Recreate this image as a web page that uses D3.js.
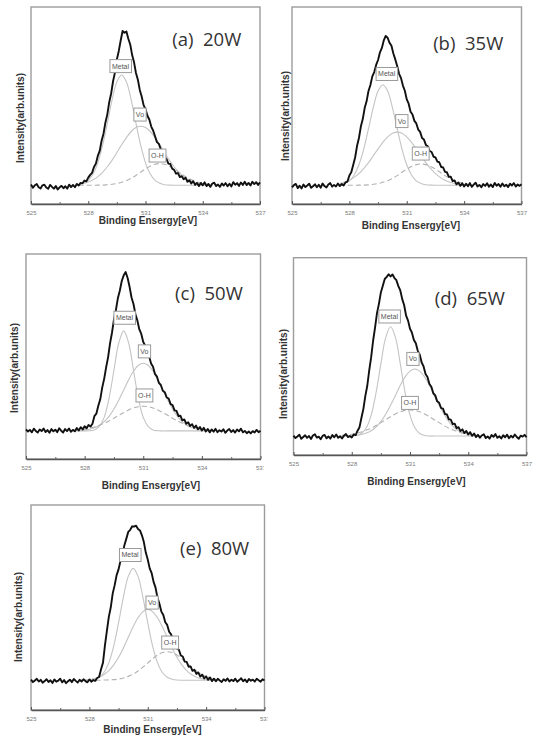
<!DOCTYPE html>
<html><head><meta charset="utf-8">
<script src="https://cdn.jsdelivr.net/npm/d3@7"></script>
<style>html,body{margin:0;padding:0;background:#fff;} svg{display:block}</style>
</head><body>
<svg id="chart" width="535" height="739"></svg>
<script>
// ---------- DATA ----------
const energy = d3.range(121).map(i => +(525 + i * 0.1).toFixed(1)); // measured grid, 0.1 eV
const fitEnergy = [527.5,527.75,528,528.25,528.5,528.75,529,529.25,529.5,529.75,530,530.25,530.5,530.75,531,531.25,531.5,531.75,532,532.25,532.5,532.75,533,533.25,533.5,533.75,534,534.25,534.5];
const tickValues = [525, 528, 531, 534, 537];
const minorTickValues = [526.5, 529.5, 532.5, 535.5];
const panelTitles = ["(a)  20W", "(b)  35W", "(c)  50W", "(d)  65W", "(e)  80W"];
const componentNames = ["Metal", "Vo", "O-H"];

const measuredA = [9.9,8.3,9.5,10.1,8.5,7.9,9.5,9.8,8.4,7.7, 9.7,8.7,7.8,9.1,7.4,8.5,9.2,8.0,9.0,7.8, 9.8,8.6,9.7,8.5,10.2,9.4,10.7,10.5,11.9,11.5, 13.4,14.8,15.8,18.8,20.5,24.4,27.0,32.1,35.7,41.4, 45.5,51.7,56.1,62.3,66.8,73.4,77.7,83.0,87.8,86.9, 87.6,83.9,81.0,75.6,71.9,66.5,63.1,57.9,54.6,50.2, 48.2,44.8,42.9,39.3,37.3,34.4,31.4,30.5,27.8,26.6, 23.7,22.9,20.5,20.3,17.9,17.3,15.4,15.7,13.7,14.1, 12.6,13.3,11.3,12.0,10.4,11.6,9.7,10.7,9.1,10.7, 9.5,11.0,9.1,10.2,8.7,10.4,10.8,9.1,9.9,8.7, 10.4,9.4,10.6,9.0,10.3,8.9,11.1,9.8,10.6,9.2, 10.9,9.7,11.3,9.6,10.7,9.4,11.3,10.1,11.1,9.7, 11.0];
const metalA = [9.8,10.5,12.0,15.2,20.9,29.7,41.0,52.9,62.0,65.5, 62.0,52.9,41.0,29.7,20.9,15.2,12.0,10.5,9.8,9.6, 9.5,9.5,9.5,9.5,9.5,9.5,9.5,9.5,9.5];
const voA = [10.0,10.5,11.2,12.3,13.9,16.1,18.9,22.3,26.1,30.1, 33.7,36.8,38.8,39.5,38.8,36.8,33.7,30.1,26.1,22.3, 18.9,16.1,13.9,12.3,11.2,10.5,10.0,9.8,9.6];
const ohA = [9.5,9.5,9.5,9.5,9.6,9.6,9.8,10.0,10.4,11.0, 11.9,13.1,14.5,16.2,17.8,19.2,20.2,20.5,20.2,19.2, 17.8,16.2,14.5,13.1,11.9,11.0,10.4,10.0,9.8];

const measuredB = [8.4,9.6,10.2,8.1,9.3,7.9,9.9,8.6,9.4,10.3, 8.2,9.0,10.0,8.5,9.8,8.3,10.4,9.1,8.4,9.9, 10.6,8.8,9.7,8.9,10.4,9.1,10.2,9.4,11.0,11.4, 14.5,16.1,19.8,23.6,29.4,33.5,39.3,43.1,48.7,52.1, 57.4,60.4,64.8,67.0,70.6,73.1,77.0,79.2,83.1,85.3, 84.4,81.8,80.3,76.4,73.4,70.0,66.1,63.9,60.1,57.5, 53.1,50.9,46.8,45.4,42.2,40.9,37.8,36.6,33.5,32.7, 30.0,29.3,26.9,26.4,24.0,23.7,21.5,21.2,18.8,18.6, 16.3,16.1,13.8,13.9,11.6,12.0,10.0,10.9,9.2,10.5, 8.9,10.3,9.0,10.6,8.7,9.8,10.8,8.9,9.7,8.5, 10.1,9.2,10.5,8.8,9.9,8.6,10.7,9.3,10.1,8.8, 10.4,9.0,9.8,8.6,10.3,9.4,10.6,8.9,9.9,9.2, 10.0];
const metalB = [9.8,10.4,11.7,14.7,19.9,27.9,38.2,49.0,57.3,60.5, 57.3,49.0,38.2,27.9,19.9,14.7,11.7,10.4,9.8,9.6, 9.5,9.5,9.5,9.5,9.5,9.5,9.5,9.5,9.5];
const voB = [10.4,11.0,12.0,13.5,15.4,18.0,21.0,24.5,28.0,31.3, 34.1,35.9,36.5,35.9,34.1,31.3,28.0,24.5,21.0,18.0, 15.4,13.5,12.0,11.0,10.4,10.0,9.8,9.6,9.5];
const ohB = [9.5,9.5,9.5,9.5,9.6,9.6,9.7,10.0,10.4,11.0, 11.8,13.0,14.4,16.1,17.7,19.0,20.0,20.3,20.0,19.0, 17.7,16.1,14.4,13.0,11.8,11.0,10.4,10.0,9.7];

const measuredC = [14.5,13.4,14.2,13.0,14.8,13.7,12.9,14.4,13.6,14.9, 13.2,14.1,12.8,14.6,13.5,14.3,13.1,15.0,13.8,12.9, 14.6,13.6,14.9,13.3,14.2,13.5,15.1,13.9,15.5,14.4, 16.0,15.0,16.6,15.8,17.2,20.9,22.1,26.0,29.1,34.8, 39.1,44.7,49.6,56.4,61.6,68.0,72.6,78.4,82.1,86.8, 89.6,91.2,88.3,84.0,78.8,75.6,70.6,67.5,63.2,61.0, 57.1,55.3,51.7,50.1,46.6,45.0,41.5,40.2,37.1,36.1, 33.3,32.6,30.0,29.5,26.8,26.3,23.7,23.5,21.0,21.1, 18.9,19.3,17.2,17.9,16.1,17.0,15.2,16.3,14.5,15.6, 13.9,15.2,13.4,14.6,13.0,14.4,13.3,14.7,13.1,14.0, 13.4,14.5,12.8,13.9,14.6,13.2,14.1,12.9,14.4,13.5, 14.8,13.0,13.7,12.6,13.4,12.5,13.6,12.9,14.2,13.1, 13.8];
const metalC = [13.7,13.7,13.7,13.8,14.2,15.9,20.3,29.6,43.3,56.7, 62.5,56.7,43.3,29.6,20.3,15.9,14.2,13.8,13.7,13.7, 13.7,13.7,13.7,13.7,13.7,13.7,13.7,13.7,13.7];
const voC = [13.8,13.9,14.1,14.5,15.2,16.3,18.2,20.8,24.4,28.8, 33.7,38.6,42.8,45.7,46.7,45.7,42.8,38.6,33.7,28.8, 24.4,20.8,18.2,16.3,15.2,14.5,14.1,13.9,13.8];
const ohC = [14.0,14.2,14.5,15.0,15.6,16.4,17.4,18.6,19.9,21.3, 22.6,23.9,24.9,25.5,25.7,25.5,24.9,23.9,22.6,21.3, 19.9,18.6,17.4,16.4,15.6,15.0,14.5,14.2,14.0];

const measuredD = [9.8,8.6,9.4,10.3,8.2,9.1,10.0,8.7,9.6,8.1, 9.9,10.5,8.8,9.3,8.0,9.7,10.2,8.5,9.4,8.3, 10.1,9.0,10.4,8.7,9.5,8.4,9.8,10.6,9.1,9.6, 8.9,10.4,10.1,12.3,14.1,18.9,23.4,30.0,35.1,42.9, 49.6,57.9,64.6,71.9,76.6,82.4,85.8,89.2,90.3,91.6, 90.5,91.5,89.7,88.6,85.6,83.4,79.0,75.9,70.6,68.1, 64.0,62.0,58.3,56.6,52.8,50.9,46.9,44.9,41.1,39.5, 36.0,34.6,31.3,30.2,27.2,26.5,23.8,23.5,20.8,20.6, 18.1,17.9,15.7,15.9,13.6,14.1,12.1,13.0,11.1,12.2, 10.4,11.6,9.7,10.9,9.1,10.2,8.8,9.9,10.5,8.6, 9.4,8.3,10.1,9.2,10.6,8.7,9.5,8.4,10.0,9.0, 10.3,8.5,9.7,8.9,10.4,9.1,8.2,9.8,9.3,10.2, 9.0];
const metalD = [9.6,9.6,9.6,9.9,10.9,13.8,20.2,31.5,46.2,59.6, 65.0,59.6,46.2,31.5,20.2,13.8,10.9,9.9,9.6,9.6, 9.6,9.6,9.6,9.6,9.6,9.6,9.6,9.6,9.6];
const voD = [9.6,9.7,9.8,10.0,10.4,11.1,12.3,14.2,16.9,20.7, 25.2,30.2,35.3,39.6,42.5,43.6,42.5,39.6,35.3,30.2, 25.2,20.7,16.9,14.2,12.3,11.1,10.4,10.0,9.8];
const ohD = [10.0,10.2,10.5,11.0,11.7,12.6,13.6,14.9,16.4,17.9, 19.4,20.8,21.9,22.6,22.8,22.6,21.9,20.8,19.4,17.9, 16.4,14.9,13.6,12.6,11.7,11.0,10.5,10.2,10.0];

const measuredE = [14.8,13.6,14.4,15.2,13.9,14.7,13.3,14.1,15.0,13.7, 14.5,13.2,14.9,13.8,14.3,15.3,13.5,14.6,13.1,14.0, 14.8,13.6,15.1,14.2,13.4,14.7,13.9,15.0,14.1,13.5, 14.9,13.8,14.6,14.2,15.6,16.1,19.9,23.1,31.5,38.6, 45.4,50.1,56.9,60.9,65.8,68.6,72.8,75.6,80.4,83.6, 86.9,87.9,89.6,89.5,89.9,88.3,87.6,85.2,81.9,76.8, 73.4,69.1,66.8,62.5,59.7,54.8,51.8,48.0,46.3,42.8, 41.5,38.2,36.9,33.8,32.8,30.0,29.4,26.6,26.1,23.6, 23.5,21.1,21.3,19.1,19.6,17.6,18.3,16.3,17.2,15.4, 16.4,14.7,15.9,14.1,15.3,14.0,15.2,14.4,13.7,15.0, 14.2,15.4,13.9,14.8,14.1,15.3,13.8,14.6,15.5,14.0, 14.9,13.6,15.1,14.3,14.8,13.9,15.2,14.5,13.8,15.0, 14.4];
const metalE = [14.5,14.5,14.6,15.0,16.0,18.3,23.1,31.2,42.6,55.1, 65.2,69.1,65.2,55.1,42.6,31.2,23.1,18.3,16.0,15.0, 14.6,14.5,14.5,14.5,14.5,14.5,14.5,14.5,14.5];
const voE = [14.6,14.7,14.9,15.3,16.0,17.3,19.2,22.0,25.7,30.3, 35.5,40.6,45.0,48.0,49.1,48.0,45.0,40.6,35.5,30.3, 25.7,22.0,19.2,17.3,16.0,15.3,14.9,14.7,14.6];
const ohE = [14.5,14.5,14.5,14.5,14.5,14.6,14.7,14.8,15.1,15.6, 16.4,17.5,19.0,20.9,22.9,25.0,26.8,28.0,28.4,28.0, 26.8,25.0,22.9,20.9,19.0,17.5,16.4,15.6,15.1];

// ---------- LAYOUT (pixels / annotation anchors) ----------
const layout = [
  {measured: measuredA, comps: [metalA, voA, ohA], frame: {x0: 31, x1: 260, y0: 7, y1: 204}, clip: null,
   yLab: {x: 20, y: 118}, xLab: {x: 148, y: 224}, titleAt: [532.4, 80],
   labelAt: [[529.69, 70], [530.71, 45.4], [531.63, 24.6]]},
  {measured: measuredB, comps: [metalB, voB, ohB], frame: {x0: 292, x1: 521.5, y0: 7, y1: 204}, clip: null,
   yLab: {x: 285.5, y: 116}, xLab: {x: 411, y: 228.5}, titleAt: [532.38, 78],
   labelAt: [[529.95, 66], [530.74, 42.1], [531.73, 25.6]]},
  {measured: measuredC, comps: [metalC, voC, ohC], frame: {x0: 26, x1: 260.5, y0: 254, y1: 459}, clip: 264,
   yLab: {x: 14.5, y: 368}, xLab: {x: 151, y: 489}, titleAt: [532.63, 77.7],
   labelAt: [[530.04, 68.9], [531.06, 52.5], [531.06, 31]]},
  {measured: measuredD, comps: [metalD, voD, ohD], frame: {x0: 293.5, x1: 526.5, y0: 257.7, y1: 455}, clip: null,
   yLab: {x: 283, y: 374}, xLab: {x: 416.5, y: 485}, titleAt: [532.28, 76],
   labelAt: [[529.94, 70.2], [531.15, 48.7], [531.0, 26.4]]},
  {measured: measuredE, comps: [metalE, voE, ohE], frame: {x0: 31, x1: 264.5, y0: 505, y1: 710}, clip: 268,
   yLab: {x: 18, y: 617}, xLab: {x: 152.5, y: 733}, titleAt: [532.66, 75.6],
   labelAt: [[530.09, 75.6], [531.22, 52.4], [532.15, 32.9]]}
];

const svg = d3.select("#chart");
const defs = svg.append("defs");

layout.forEach((p, i) => {
  const g = svg.append("g");
  if (p.clip) {
    defs.append("clipPath").attr("id", "clip" + i)
      .append("rect").attr("x", 0).attr("y", 0).attr("width", p.clip).attr("height", 739);
    g.attr("clip-path", `url(#clip${i})`);
  }
  const f = p.frame;
  const x = d3.scaleLinear().domain([525, 537]).range([f.x0, f.x1]);
  const y = d3.scaleLinear().domain([0, 100]).range([f.y1, f.y0]);

  // frame
  g.append("rect").attr("x", f.x0).attr("y", f.y0).attr("width", f.x1 - f.x0).attr("height", f.y1 - f.y0)
    .attr("fill", "none").attr("stroke", "#9c9c9c").attr("stroke-width", 1.4);

  // bottom axis
  const ax = g.append("g").attr("transform", `translate(0,${f.y1})`)
    .call(d3.axisBottom(x).tickValues(tickValues).tickSizeInner(-3).tickSizeOuter(0).tickPadding(7).tickFormat(d3.format("d")));
  ax.select(".domain").attr("stroke", "#555").attr("stroke-width", 1.4);
  ax.selectAll(".tick line").attr("stroke", "#555").attr("stroke-width", 1);
  ax.selectAll(".tick text").attr("fill", "#7a7a7a").style("font-size", "6px").style("font-family", "'Liberation Sans', Arial, sans-serif");
  const mx = g.append("g").attr("transform", `translate(0,${f.y1})`)
    .call(d3.axisBottom(x).tickValues(minorTickValues).tickSizeInner(-2).tickSizeOuter(0).tickFormat(""));
  mx.select(".domain").remove();
  mx.selectAll(".tick line").attr("stroke", "#666").attr("stroke-width", 1);

  // fitted components
  const fitLine = d3.line().x(d => x(d[0])).y(d => y(d[1])).curve(d3.curveCatmullRom);
  p.comps.forEach((vals, ci) => {
    g.append("path").datum(d3.zip(fitEnergy, vals)).attr("d", fitLine)
      .attr("fill", "none")
      .attr("stroke", ci === 2 ? "#b2b2b2" : "#c4c4c4")
      .attr("stroke-width", 1.1)
      .attr("stroke-dasharray", ci === 2 ? "5,3" : null);
  });

  // measured spectrum
  const mLine = d3.line().x(d => x(d[0])).y(d => y(d[1]));
  g.append("path").datum(d3.zip(energy, p.measured)).attr("d", mLine)
    .attr("fill", "none").attr("stroke", "#111").attr("stroke-width", 1.9).attr("stroke-linejoin", "round");

  // component labels in boxes
  componentNames.forEach((name, ci) => {
    const [ex, ey] = p.labelAt[ci];
    const cx = x(ex), cy = y(ey);
    const lg = g.append("g");
    const t = lg.append("text").attr("x", cx).attr("y", cy).attr("text-anchor", "middle").attr("dy", "0.35em")
      .style("font-family", "'Liberation Sans', Arial, sans-serif").style("font-size", "7px").attr("fill", "#555").text(name);
    const bb = t.node().getBBox();
    lg.insert("rect", "text").attr("x", bb.x - 2).attr("y", cy - 6.5).attr("width", bb.width + 4).attr("height", 13)
      .attr("fill", "#fff").attr("stroke", "#9a9a9a").attr("stroke-width", 1);
  });

  // panel title
  g.append("text").attr("x", x(p.titleAt[0])).attr("y", y(p.titleAt[1]))
    .style("font-family", "'Open Sans', 'Noto Sans', sans-serif").style("font-size", "18.5px").style("white-space", "pre")
    .attr("fill", "#333").text(panelTitles[i]);

  // axis titles
  g.append("text").attr("transform", `translate(${p.yLab.x},${p.yLab.y}) rotate(-90)`).attr("text-anchor", "middle").attr("dy", "0.35em")
    .style("font-family", "'Liberation Sans', Arial, sans-serif").style("font-size", "10px").style("font-weight", "bold")
    .attr("fill", "#333").text("Intensity(arb.units)");
  g.append("text").attr("x", p.xLab.x).attr("y", p.xLab.y).attr("text-anchor", "middle")
    .style("font-family", "'Liberation Sans', Arial, sans-serif").style("font-size", "10px").style("font-weight", "bold")
    .attr("fill", "#333").text("Binding Ensergy[eV]");
});
</script>
</body></html>
